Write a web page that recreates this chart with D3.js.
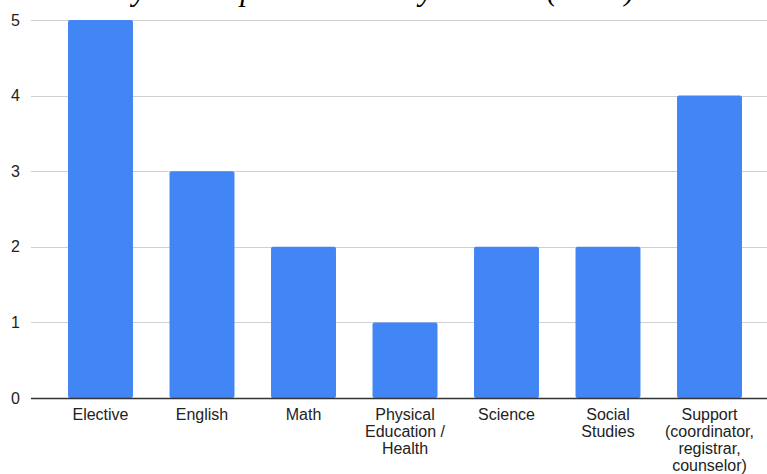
<!DOCTYPE html>
<html>
<head>
<meta charset="utf-8">
<script src="https://cdn.jsdelivr.net/npm/d3@7"></script>
<style>
  body { margin: 0; background: #fff; }
  svg { display: block; }
</style>
</head>
<body>
<div id="chart"></div>
<script>
// Daten
const categories = [
  ["Elective"],
  ["English"],
  ["Math"],
  ["Physical", "Education /", "Health"],
  ["Science"],
  ["Social", "Studies"],
  ["Support", "(coordinator,", "registrar,", "counselor)"]
];
const counts = [5, 3, 2, 1, 2, 2, 4];
const yTicks = [0, 1, 2, 3, 4, 5];
const title = "Survey Participants Sorted by Content (n=19)";

const W = 767, H = 474;

const svg = d3.select("#chart").append("svg")
  .attr("width", W)
  .attr("height", H);

// Skalen
const x = d3.scaleBand()
  .domain(d3.range(categories.length))
  .range([49.75, 760.25])
  .paddingInner(0.36)
  .paddingOuter(0.18);

const y = d3.scaleLinear()
  .domain([0, 5])
  .range([398, 20]);

// Titel (oben abgeschnitten, nur Unterlängen sichtbar)
svg.append("text")
  .attr("x", 62)
  .attr("y", -0.5)
  .style("font-family", "'Liberation Serif', 'Times New Roman', serif")
  .style("font-style", "italic")
  .style("font-size", "31px")
  .style("fill", "#000")
  .text(title);

// Gitterlinien
svg.append("g")
  .selectAll("line")
  .data(yTicks.filter(d => d > 0))
  .join("line")
  .attr("x1", 31)
  .attr("x2", W)
  .attr("y1", d => Math.round(y(d)) + 0.5)
  .attr("y2", d => Math.round(y(d)) + 0.5)
  .style("stroke", "#d0d0d0")
  .style("stroke-width", 1.2);

// y-Achse
const yAxis = d3.axisLeft(y)
  .tickValues(yTicks)
  .tickFormat(d3.format("d"))
  .tickSize(0)
  .tickPadding(0);

svg.append("g")
  .attr("transform", "translate(20,0)")
  .call(yAxis)
  .call(g => g.select(".domain").remove())
  .selectAll("text")
  .style("font-family", "'Liberation Sans', Arial, sans-serif")
  .style("font-size", "16px")
  .style("fill", "#222");

// Balken
svg.append("g")
  .selectAll("rect")
  .data(counts)
  .join("rect")
  .attr("x", (d, i) => x(i))
  .attr("y", d => y(d))
  .attr("width", x.bandwidth())
  .attr("height", d => y(0) - y(d))
  .attr("rx", 2)
  .style("fill", "#4285f4");

// Grundlinie
svg.append("line")
  .attr("x1", 31)
  .attr("x2", W)
  .attr("y1", y(0) + 0.5)
  .attr("y2", y(0) + 0.5)
  .style("stroke", "#333")
  .style("stroke-width", 1.3);

// x-Beschriftungen
const xLabels = svg.append("g")
  .selectAll("text")
  .data(categories)
  .join("text")
  .attr("x", (d, i) => x(i) + x.bandwidth() / 2)
  .attr("y", 420)
  .attr("text-anchor", "middle")
  .style("font-family", "'Liberation Sans', Arial, sans-serif")
  .style("font-size", "16px")
  .style("fill", "#222");

xLabels.selectAll("tspan")
  .data(d => d)
  .join("tspan")
  .attr("x", function () { return this.parentNode.getAttribute("x"); })
  .attr("dy", (d, i) => i === 0 ? 0 : 17)
  .text(d => d);
</script>
</body>
</html>
